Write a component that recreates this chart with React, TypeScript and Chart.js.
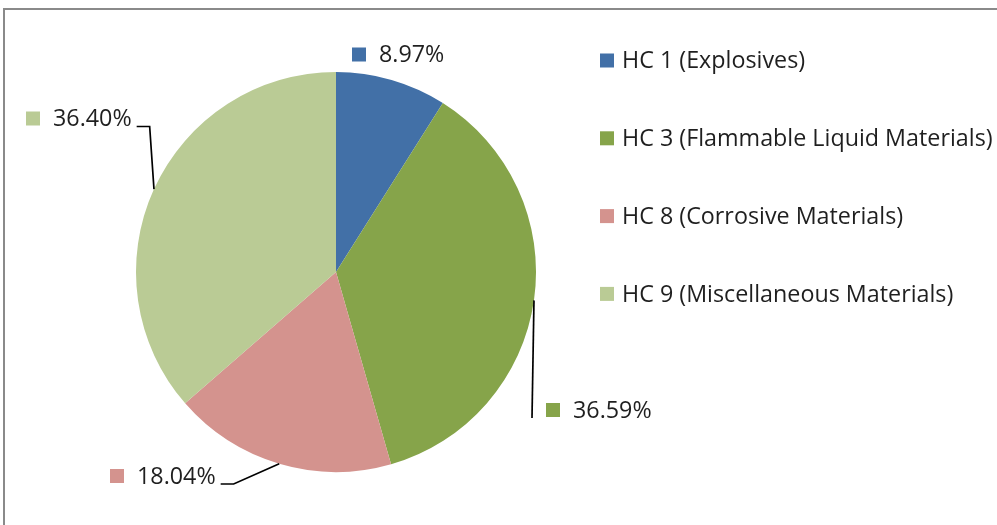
import React, { useEffect, useRef } from "react";
import { Chart, registerables } from "chart.js";

Chart.register(...registerables);

// ---- data ----
const categories = [
  "HC 1 (Explosives)",
  "HC 3 (Flammable Liquid Materials)",
  "HC 8 (Corrosive Materials)",
  "HC 9 (Miscellaneous Materials)",
];
const shares = [8.97, 36.59, 18.04, 36.4];
const valueLabels = ["8.97%", "36.59%", "18.04%", "36.40%"];

// ---- style / layout ----
const colors = ["#4270A7", "#86A44A", "#D4938E", "#BACB95"];
const FONT = "23.3px 'Open Sans', 'Noto Sans', sans-serif";
const TEXT_COLOR = "#1f1f1f";
// label placement relative to the pie centre (square left edge, vertical centre)
const labelOffsets = [
  { dx: 16, dy: -217.5, leader: "none", elbow: 0 },
  { dx: 210, dy: 138, leader: "left", elbow: 0 },
  { dx: -226, dy: 204, leader: "right", elbow: 13 },
  { dx: -310, dy: -153.5, leader: "right", elbow: 13 },
];

const framePlugin = {
  id: "frame",
  beforeDraw(chart: any) {
    const ctx = chart.ctx;
    ctx.save();
    ctx.strokeStyle = "#8a8a8a";
    ctx.lineWidth = 2;
    ctx.beginPath();
    ctx.moveTo(4, chart.height + 10);
    ctx.lineTo(4, 9);
    ctx.lineTo(chart.width + 10, 9);
    ctx.stroke();
    ctx.restore();
  },
};

const labelPlugin = {
  id: "sliceLabels",
  afterDraw(chart: any) {
    const ctx = chart.ctx;
    const meta = chart.getDatasetMeta(0);
    const ds = chart.data.datasets[0];
    ctx.save();
    ctx.font = FONT;
    ctx.textBaseline = "middle";
    meta.data.forEach((arc: any, i: number) => {
      const p = arc.getProps(["x", "y", "startAngle", "endAngle", "outerRadius"], true);
      const mid = (p.startAngle + p.endAngle) / 2;
      const lay = labelOffsets[i];
      const sx = p.x + lay.dx;
      const cy = p.y + lay.dy;
      const sq = 14;
      ctx.fillStyle = ds.backgroundColor[i];
      ctx.fillRect(sx, cy - sq / 2, sq, sq);
      const tx = sx + sq + 13;
      ctx.fillStyle = TEXT_COLOR;
      ctx.textAlign = "left";
      const txt = valueLabels[i];
      ctx.fillText(txt, tx, cy + 1);
      const tw = ctx.measureText(txt).width;
      if (lay.leader !== "none") {
        const ex = p.x + Math.cos(mid) * p.outerRadius;
        const ey = p.y + Math.sin(mid) * p.outerRadius;
        let endX: number;
        let elbowX: number;
        const endY = cy + 8;
        if (lay.leader === "right") {
          endX = tx + tw + 5;
          elbowX = endX + lay.elbow;
        } else {
          endX = sx - 14;
          elbowX = endX - lay.elbow;
        }
        ctx.strokeStyle = "#000";
        ctx.lineWidth = 1.7;
        ctx.beginPath();
        ctx.moveTo(ex, ey);
        ctx.lineTo(elbowX, endY);
        ctx.lineTo(endX, endY);
        ctx.stroke();
      }
    });
    ctx.restore();
  },
};

const legendPlugin = {
  id: "customLegend",
  afterDraw(chart: any) {
    const ctx = chart.ctx;
    const area = chart.chartArea;
    const ds = chart.data.datasets[0];
    const x0 = area.right + 64;
    const y0 = area.top - 11.5;
    const step = 77.8;
    ctx.save();
    ctx.font = FONT;
    ctx.textBaseline = "middle";
    ctx.textAlign = "left";
    chart.data.labels.forEach((lab: string, i: number) => {
      const cy = y0 + i * step;
      ctx.fillStyle = ds.backgroundColor[i];
      ctx.fillRect(x0, cy - 7, 14, 14);
      ctx.fillStyle = TEXT_COLOR;
      ctx.fillText(lab, x0 + 22, cy + 1);
    });
    ctx.restore();
  },
};

export default function App() {
  const ref = useRef<HTMLCanvasElement | null>(null);
  useEffect(() => {
    if (!ref.current) return;
    const chart = new Chart(ref.current, {
      type: "pie",
      data: {
        labels: categories,
        datasets: [
          {
            data: shares,
            backgroundColor: colors,
            borderWidth: 0,
          },
        ],
      },
      options: {
        responsive: false,
        animation: false,
        layout: { padding: { left: 136, right: 461, top: 72, bottom: 53 } },
        plugins: {
          legend: { display: false },
          tooltip: { enabled: false },
          title: { display: false },
        },
      },
      plugins: [framePlugin, labelPlugin, legendPlugin],
    });
    return () => chart.destroy();
  }, []);
  return (
    <div style={{ position: "absolute", left: 0, top: 0, width: 997, height: 525, background: "#fff" }}>
      <canvas ref={ref} width={997} height={525} style={{ width: 997, height: 525, display: "block" }} />
    </div>
  );
}
